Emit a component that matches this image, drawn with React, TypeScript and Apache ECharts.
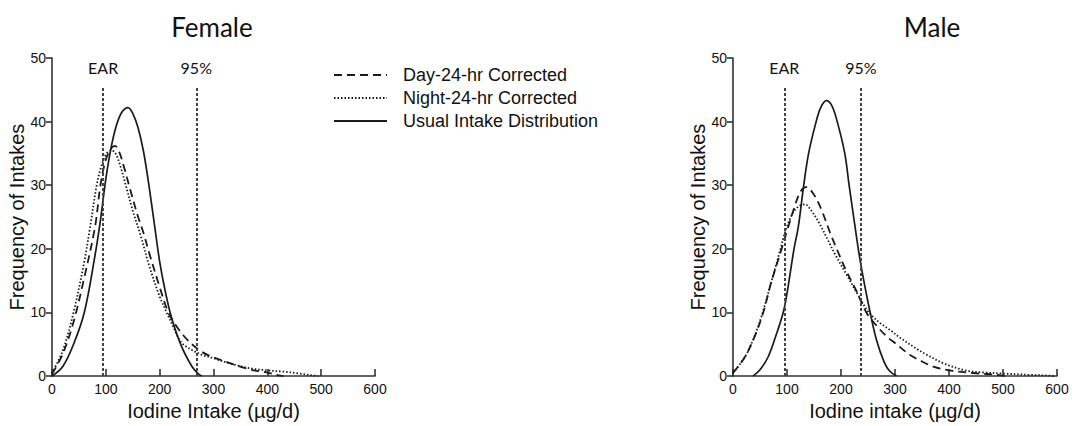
import React, { useEffect, useRef } from "react";
import * as echarts from "echarts";

const seriesNames = ["Day-24-hr Corrected", "Night-24-hr Corrected", "Usual Intake Distribution"];
const panelTitles = ["Female", "Male"];
const xAxisNames = ["Iodine Intake (µg/d)", "Iodine intake (µg/d)"];
const yAxisName = "Frequency of Intakes";
const earValues = [95, 95];
const p95Values = [268, 237];
const refLineTop = 45.5;

const femaleDay = [[0,0.3],[20,3.5],[40,8.5],[60,15.5],[80,23.5],[90,30],[100,34],[110,35.8],[117,36.2],[125,35.2],[135,32.5],[143,30],[160,25],[170,22.5],[180,19.5],[200,14],[216,10],[230,8],[245,6.3],[260,5],[275,4],[290,3.3],[325,2.2],[365,1.1],[400,0.55],[420,0.15],[430,0]];
const femaleNight = [[0,0.5],[20,4],[40,10],[60,18],[70,23],[83,30],[90,32.5],[100,34.8],[110,35.5],[118,35],[127,33],[137,30],[150,26],[165,22],[180,17.5],[200,12.5],[213,10],[225,7.8],[240,5.3],[260,4.1],[280,3.3],[300,2.8],[330,2],[370,1.2],[400,0.9],[430,0.7],[460,0.4],[485,0.1],[495,0]];
const femaleUsual = [[0,0],[20,1.5],[40,5],[60,10],[80,19],[90,24.5],[100,31],[110,36],[120,39.5],[130,41.5],[141,42.2],[150,41.3],[160,39],[170,35.3],[180,30],[190,24],[200,18],[210,13.5],[222,9.2],[240,4.8],[260,1.5],[270,0.5],[278,0]];

const maleDay = [[0,0.5],[22,3],[40,6.2],[56,10],[70,14.5],[90,20],[100,22.8],[112,26.1],[125,29],[136,29.7],[150,28.5],[164,26.1],[180,22.5],[192,20],[210,16.5],[229,13.3],[247,10],[265,8],[285,6.2],[300,5.2],[328,3.3],[350,2.3],[371,1.5],[400,0.9],[450,0.45],[490,0.2],[505,0]];
const maleNight = [[0,0.5],[22,3],[40,6.3],[55,10],[70,14.5],[88,20],[96,22.5],[110,25.5],[122,26.7],[133,27],[145,26],[160,24],[175,21.5],[190,19],[210,16],[230,13],[250,10.2],[270,8.5],[290,7.3],[310,6],[340,4.3],[360,3.3],[390,2],[430,0.9],[460,0.6],[500,0.4],[550,0.2],[590,0.05],[595,0]];
const maleUsual = [[37,0],[50,1],[65,3],[80,6.5],[93,10],[100,13],[113,20],[121,23.5],[131,30],[140,35],[154,40],[163,42.3],[173,43.3],[183,42.5],[193,40],[207,35],[215,30],[226,23.5],[232,20],[240,16],[254,10],[266,5.6],[280,2.2],[290,0.8],[303,0]];

const panels = [
  [femaleDay, femaleNight, femaleUsual],
  [maleDay, maleNight, maleUsual],
];

const LINE = "#1a1a1a";
const AXIS = "#333";
const ARIAL = "'Liberation Sans', Arial, sans-serif";
const CAL = "Lato, 'Open Sans', sans-serif";
const lineTypes: any[] = [[8, 5], [1.5, 2], "solid"];

export default function App() {
  const ref = useRef<HTMLDivElement>(null);
  useEffect(() => {
    if (!ref.current) return;
    const chart = echarts.init(ref.current, null, { renderer: "svg" });
    const grids = [
      { left: 52, top: 58, width: 323, height: 325 },
      { left: 733, top: 58, width: 324, height: 325 },
    ];
    const xAxis = grids.map((_, i) => ({
      type: "value",
      gridIndex: i,
      min: 0,
      max: 600,
      interval: 100,
      name: xAxisNames[i],
      nameLocation: "middle",
      nameGap: 24,
      nameTextStyle: { fontFamily: ARIAL, fontSize: 20, color: "#111" },
      axisLine: { show: true, lineStyle: { color: AXIS, width: 1.6 } },
      axisTick: { show: true, inside: true, length: 7, lineStyle: { color: AXIS, width: 1.6 } },
      axisLabel: { fontFamily: ARIAL, fontSize: 14, color: "#111", margin: 6 },
      splitLine: { show: false },
    }));
    const yAxis = grids.map((_, i) => ({
      type: "value",
      gridIndex: i,
      min: 0,
      max: 50,
      interval: 10,
      name: yAxisName,
      nameLocation: "middle",
      nameGap: 18,
      nameTextStyle: { fontFamily: ARIAL, fontSize: 20, color: "#111" },
      axisLine: { show: true, lineStyle: { color: AXIS, width: 1.6 } },
      axisTick: { show: true, inside: false, length: 6, lineStyle: { color: AXIS, width: 1.6 } },
      axisLabel: { fontFamily: ARIAL, fontSize: 14, color: "#111", margin: 6 },
      splitLine: { show: false },
    }));
    const series: any[] = [];
    panels.forEach((data, p) => {
      data.forEach((d, k) => {
        const s: any = {
          type: "line",
          name: seriesNames[k],
          xAxisIndex: p,
          yAxisIndex: p,
          data: d,
          smooth: 0.35,
          symbol: "none",
          lineStyle: { color: LINE, width: k === 2 ? 1.7 : 1.8, type: lineTypes[k] },
          itemStyle: { color: LINE },
        };
        if (k === 2) {
          const lbl = (t: string) => ({
            show: true,
            position: "end",
            distance: 11,
            formatter: t,
            fontFamily: CAL,
            fontSize: 16,
            color: "#111",
          });
          s.markLine = {
            silent: true,
            symbol: "none",
            lineStyle: { color: "#444", width: 2, type: [3, 2] },
            data: [
              [{ coord: [earValues[p], 0], label: lbl("EAR") }, { coord: [earValues[p], refLineTop] }],
              [{ coord: [p95Values[p], 0], label: lbl("95%") }, { coord: [p95Values[p], refLineTop] }],
            ],
          };
        }
        series.push(s);
      });
    });
    chart.setOption({
      animation: false,
      backgroundColor: "#fff",
      grid: grids,
      xAxis,
      yAxis,
      series,
      legend: {
        data: seriesNames,
        orient: "vertical",
        left: 328,
        top: 61,
        itemWidth: 53,
        itemHeight: 14,
        itemGap: 5,
        itemStyle: { opacity: 0, color: "transparent", borderWidth: 0 },
        textStyle: { fontFamily: ARIAL, fontSize: 18, color: "#111", padding: [0, 0, 0, 11] },
        selectedMode: false,
      },
      graphic: panelTitles.map((t, i) => ({
        type: "text",
        x: i === 0 ? 212 : 932,
        y: 27,
        style: { text: t, align: "center", verticalAlign: "middle", fontFamily: CAL, fontSize: 26, fill: "#111" },
      })),
    });
    return () => chart.dispose();
  }, []);
  return <div ref={ref} style={{ position: "fixed", left: 0, top: 0, width: 1075, height: 426 }} />;
}
